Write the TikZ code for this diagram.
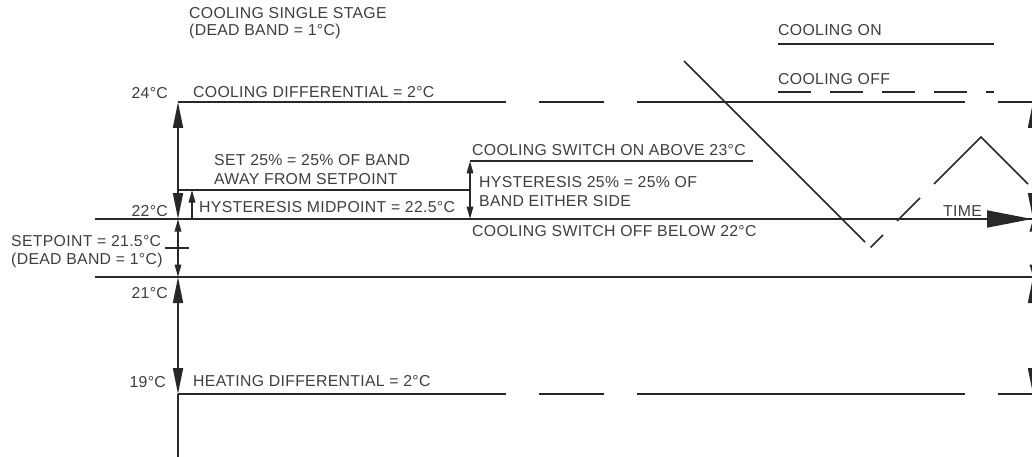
\documentclass[tikz,border=0pt]{standalone}
\usepackage{fontspec}
\setmainfont{Liberation Sans}
\newfontfamily\lblfont[LetterSpace=2]{Liberation Sans}
\usetikzlibrary{arrows.meta}
\definecolor{linec}{RGB}{40,40,40}
\definecolor{textc}{RGB}{62,62,62}
\tikzset{
  lbl/.style={font=\lblfont\fontsize{15.8}{18}\selectfont, text=textc, inner sep=0pt, anchor=base west},
  lblr/.style={lbl, anchor=base east},
  ln/.style={draw=linec, line width=1.8pt},
  trace/.style={draw=linec, line width=1.6pt},
  BigT/.tip={Triangle[length=26pt,width=10pt]},
  SmT/.tip={Triangle[length=12.5pt,width=6.5pt]},
  TimeT/.tip={Triangle[length=45pt,width=17pt]},
}
\begin{document}
\begin{tikzpicture}[x=1pt,y=-1pt]
\useasboundingbox (0,0) rectangle (1032,457);
\clip (0,0) rectangle (1032,457);
% ---------- coordinates ----------
\coordinate (ax24) at (178,102);
\coordinate (ax22) at (178,219);
\coordinate (ax21) at (178,277);
\coordinate (ax19) at (178,394);
\coordinate (axbot) at (178,460);
\coordinate (spL) at (165,248);
\coordinate (spR) at (189,248);
\coordinate (rx24) at (1033,102);
\coordinate (rx22) at (1033,219);
\coordinate (rx21) at (1033,277);
\coordinate (rx19) at (1033,394);
\coordinate (rxbot) at (1033,460);
\coordinate (l22a) at (95,219);
\coordinate (l22b) at (1032,219);
\coordinate (l21a) at (95,277);
\coordinate (l21b) at (1040,277);
\coordinate (hm) at (192,219);
\coordinate (hmt) at (192,190);
\coordinate (hl) at (178,190);
\coordinate (hr) at (470,190);
\coordinate (hv1) at (470,161);
\coordinate (hv2) at (470,219);
\coordinate (onR) at (753,161);
\coordinate (legonA) at (778,44);
\coordinate (legonB) at (994,44);
\coordinate (legoffA) at (778,92.3);
\coordinate (legoffB) at (994,92.3);
% ---------- horizontal lines ----------
\foreach \yy in {102,394}{
  \draw[ln] (178,\yy) -- (506,\yy);
  \draw[ln] (539,\yy) -- (604,\yy);
  \draw[ln] (637,\yy) -- (965,\yy);
  \draw[ln] (998,\yy) -- (1040,\yy);
}
\draw[ln] (l22a) -- (l22b);
\draw[ln] (l21a) -- (l21b);
\draw[ln] (hl) -- (hr);
\draw[ln] (hv1) -- (onR);
% ---------- main axis ----------
\draw[ln, {BigT}-{BigT}] (ax24) -- (ax22);
\draw[ln, {SmT}-{SmT}] (ax22) -- (ax21);
\draw[ln, {BigT}-{BigT}] (ax21) -- (ax19);
\draw[ln] (ax19) -- (axbot);
\draw[ln] (spL) -- (spR);
% ---------- repeated axis at the right edge ----------
\draw[ln, {BigT}-{BigT}] (rx24) -- (rx22);
\draw[ln, {SmT}-{SmT}] (rx22) -- (rx21);
\draw[ln, {BigT}-{BigT}] (rx21) -- (rx19);
\draw[ln] (rx19) -- (rxbot);
% ---------- hysteresis arrows ----------
\draw[ln, -{SmT}] (hm) -- (hmt);
\draw[ln, {SmT}-{SmT}] (hv1) -- (hv2);
% ---------- time arrow ----------
\draw[ln, -{TimeT}] (900,219) -- (l22b);
% ---------- legend ----------
\draw[ln] (legonA) -- (legonB);
\draw[ln, dash pattern=on 32.5pt off 19.5pt] (legoffA) -- (legoffB);
% ---------- temperature trace ----------
\coordinate (tr1) at (684,61);
\coordinate (tr2) at (865,242);
\coordinate (tr3) at (870.5,247.5);
\coordinate (tr4) at (883,235);
\coordinate (tr5) at (897,221);
\coordinate (tr6) at (920,198);
\coordinate (tr7) at (934,184);
\coordinate (tr8) at (981,137);
\coordinate (tr9) at (1028,184);
\draw[trace] (tr1) -- (tr2);
\draw[trace] (tr3) -- (tr4);
\draw[trace] (tr5) -- (tr6);
\draw[trace, line join=miter] (tr7) -- (tr8) -- (tr9);
% ---------- labels ----------
\node[lbl] (t1) at (189,19) {COOLING SINGLE STAGE};
\node[lbl] (t2) at (189,36) {(DEAD BAND = 1°C)};
\node[lbl] (ton) at (778,36) {COOLING ON};
\node[lbl] (toff) at (778,85) {COOLING OFF};
\node[lblr] (t24) at (168,98.5) {24°C};
\node[lbl] (tcd) at (193,97.5) {COOLING DIFFERENTIAL = 2°C};
\node[lbl] (tset1) at (214,165) {SET 25\% = 25\% OF BAND};
\node[lbl] (tset2) at (214,184) {AWAY FROM SETPOINT};
\node[lbl] (tcon) at (472,156) {COOLING SWITCH ON ABOVE 23°C};
\node[lbl] (thy1) at (479,187.5) {HYSTERESIS 25\% = 25\% OF};
\node[lbl] (thy2) at (479,206) {BAND EITHER SIDE};
\node[lbl] (thm) at (199,212) {HYSTERESIS MIDPOINT = 22.5°C};
\node[lblr] (t22) at (168,216.5) {22°C};
\node[lbl] (ttime) at (943,216) {TIME};
\node[lbl] (tcoff) at (472,236.5) {COOLING SWITCH OFF BELOW 22°C};
\node[lbl] (tsp1) at (11,246.5) {SETPOINT = 21.5°C};
\node[lbl] (tsp2) at (11,264.5) {(DEAD BAND = 1°C)};
\node[lblr] (t21) at (168,298.5) {21°C};
\node[lblr] (t19) at (166,387) {19°C};
\node[lbl] (thd) at (193,386.7) {HEATING DIFFERENTIAL = 2°C};
\end{tikzpicture}
\end{document}
